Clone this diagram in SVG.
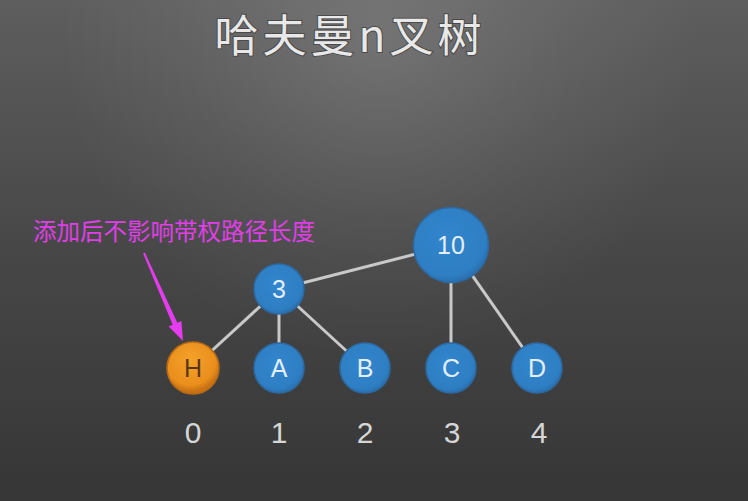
<svg xmlns="http://www.w3.org/2000/svg" width="748" height="501" viewBox="0 0 748 501">
<defs>
<linearGradient id="bgl" x1="0" y1="0" x2="0" y2="1">
<stop offset="0" stop-color="#5e5e5e"/>
<stop offset="0.5" stop-color="#474747"/>
<stop offset="1" stop-color="#363636"/>
</linearGradient>
<radialGradient id="hl" gradientUnits="userSpaceOnUse" cx="380" cy="40" r="320">
<stop offset="0" stop-color="#ffffff" stop-opacity="0.15"/>
<stop offset="0.6" stop-color="#ffffff" stop-opacity="0.05"/>
<stop offset="1" stop-color="#ffffff" stop-opacity="0"/>
</radialGradient>
<radialGradient id="blue" cx="0.45" cy="0.4" r="0.6">
<stop offset="0" stop-color="#3286cc"/>
<stop offset="0.85" stop-color="#2e7ec3"/>
<stop offset="1" stop-color="#2a6fae"/>
</radialGradient>
<radialGradient id="orange" cx="0.45" cy="0.35" r="0.6">
<stop offset="0" stop-color="#f4a22a"/>
<stop offset="0.8" stop-color="#ea8e1c"/>
<stop offset="1" stop-color="#c87214"/>
</radialGradient>
<style>
.edge{stroke:#c9c9c9;stroke-width:3;fill:none}
.bn{fill:url(#blue);stroke:#2b6aa3;stroke-width:1.5}
.on{fill:url(#orange);stroke:#b86a14;stroke-width:1.5}
.lbl{font-family:"Liberation Sans",Arial,sans-serif;font-size:25px;fill:#e4eef8;text-anchor:middle}
.num{font-family:"Liberation Sans",Arial,sans-serif;font-size:30px;fill:#d6d6d6;text-anchor:middle}
.title{font-family:"Noto Sans CJK SC",sans-serif;font-size:44px;letter-spacing:4px;fill:#e8e8e8;stroke:#4a4a4a;stroke-width:2;paint-order:stroke;text-anchor:middle}
.note{font-family:"Noto Sans CJK SC",sans-serif;font-size:23.5px;fill:#e03ee8}
</style>
</defs>
<rect width="748" height="501" fill="url(#bgl)"/>
<rect width="748" height="501" fill="url(#hl)"/>
<text class="title" x="350" y="52">哈夫曼n叉树</text>
<g id="connectors">
<line class="edge" x1="451" y1="245" x2="279" y2="289"/>
<line class="edge" x1="279" y1="289" x2="193" y2="368"/>
<line class="edge" x1="279" y1="289" x2="279" y2="368"/>
<line class="edge" x1="279" y1="289" x2="365" y2="368"/>
<line class="edge" x1="451" y1="245" x2="451" y2="368"/>
<line class="edge" x1="451" y1="245" x2="537" y2="368"/>
</g>
<g id="n10"><circle class="bn" cx="451" cy="245" r="37.5"/><text class="lbl" x="451" y="254" font-size="26">10</text></g>
<g id="n3"><circle class="bn" cx="279" cy="289" r="25"/><text class="lbl" x="279" y="298" font-size="26">3</text></g>
<g id="nH"><circle class="on" cx="193" cy="368" r="26"/><text class="lbl" x="193" y="377" style="fill:#5a3812">H</text></g>
<g id="nA"><circle class="bn" cx="279" cy="368" r="25"/><text class="lbl" x="279" y="377">A</text></g>
<g id="nB"><circle class="bn" cx="365" cy="368" r="25"/><text class="lbl" x="365" y="377">B</text></g>
<g id="nC"><circle class="bn" cx="451" cy="368" r="25"/><text class="lbl" x="451" y="377">C</text></g>
<g id="nD"><circle class="bn" cx="537" cy="368" r="25"/><text class="lbl" x="537" y="377">D</text></g>
<g id="indices">
<text class="num" x="193" y="443">0</text>
<text class="num" x="279" y="443">1</text>
<text class="num" x="365" y="443">2</text>
<text class="num" x="452" y="443">3</text>
<text class="num" x="539" y="443">4</text>
</g>
<g id="note">
<text class="note" x="33" y="240">添加后不影响带权路径长度</text>
<polygon fill="#e53cf0" points="143.1,253.4 144.9,252.6 177.3,322.7 181.4,320.9 183,341 168.6,326.5 172.7,324.7"/>
</g>
</svg>
